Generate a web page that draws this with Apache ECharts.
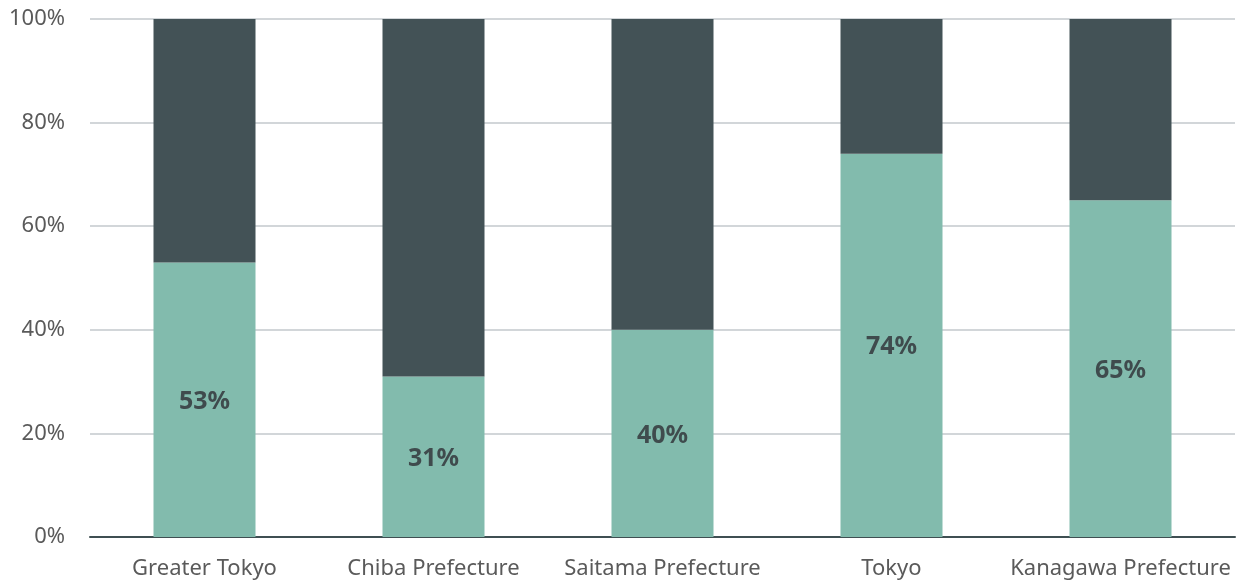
<!DOCTYPE html>
<html>
<head>
<meta charset="utf-8">
<script src="https://cdn.jsdelivr.net/npm/echarts@6/dist/echarts.min.js"></script>
<style>
  html, body { margin: 0; padding: 0; background: #ffffff; }
  #chart { width: 1243px; height: 582px; }
</style>
</head>
<body>
<div id="chart"></div>
<script>
// Share of each region (percent), remainder stacked on top
const regions = ['Greater Tokyo', 'Chiba Prefecture', 'Saitama Prefecture', 'Tokyo', 'Kanagawa Prefecture'];
const shareValues = [53, 31, 40, 74, 65];
const remainderValues = shareValues.map(v => 100 - v);
const yTicks = [0, 20, 40, 60, 80, 100];

const FONT = '"Noto Sans", sans-serif';

const chart = echarts.init(document.getElementById('chart'), null, { renderer: 'canvas' });
chart.setOption({
  animation: false,
  grid: { left: 90, right: 8, top: 19, bottom: 45, containLabel: false },
  xAxis: {
    type: 'category',
    data: regions,
    axisTick: { show: false },
    axisLine: { show: true, lineStyle: { color: '#3f4f52', width: 2 } },
    axisLabel: { color: '#5a5a5a', fontSize: 22, fontFamily: FONT, margin: 21, interval: 0 }
  },
  yAxis: {
    type: 'value',
    min: yTicks[0],
    max: yTicks[yTicks.length - 1],
    interval: 20,
    axisLine: { show: false },
    axisTick: { show: false },
    splitLine: { lineStyle: { color: '#d2d6d9', width: 2 } },
    axisLabel: {
      color: '#5a5a5a', fontSize: 22, fontFamily: FONT, margin: 25,
      formatter: v => v + '%'
    }
  },
  series: [
    {
      name: 'Share',
      type: 'bar',
      stack: 'total',
      data: shareValues,
      barWidth: 102,
      itemStyle: { color: '#82bbad' },
      label: {
        show: true,
        position: 'inside',
        offset: [0, 2],
        formatter: p => p.value + '%',
        color: '#3f4b4d',
        fontSize: 25,
        fontWeight: 'bold',
        fontFamily: FONT
      }
    },
    {
      name: 'Other',
      type: 'bar',
      stack: 'total',
      data: remainderValues,
      barWidth: 102,
      itemStyle: { color: '#435256' }
    }
  ]
});
</script>
</body>
</html>
